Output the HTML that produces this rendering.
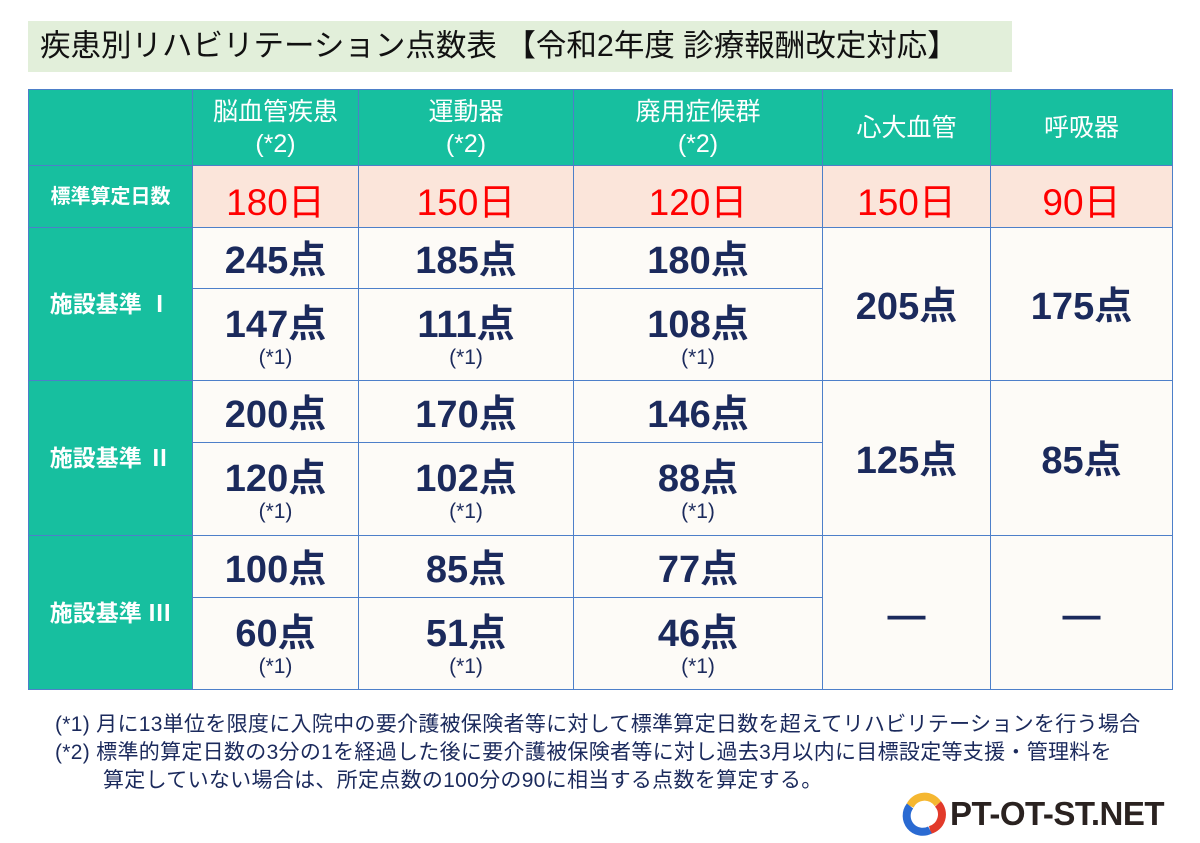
<!DOCTYPE html>
<html><head><meta charset="utf-8"><style>
*{margin:0;padding:0;box-sizing:border-box}
body{width:1200px;height:843px;background:#fff;position:relative;overflow:hidden;font-family:"Liberation Sans","Noto Sans CJK JP",sans-serif}
.t{position:absolute;left:28px;top:21px;width:984px;height:51px;background:#e2efda;font-size:30.5px;line-height:51px;padding-left:12px;color:#111;white-space:nowrap}
.c{position:absolute;border:1.5px solid #4d7fc9;display:flex;flex-direction:column;align-items:center;justify-content:center;text-align:center;color:#1b2a5c}
.h{background:#17bf9f;color:#fff;font-size:25px;line-height:32px}
.p{background:#fbe5da;color:#f00;font-size:37px;padding-top:4px}
.b{background:#fdfbf7}
.n{font-size:38px;font-weight:bold;line-height:42px}
.s{font-size:21px;line-height:24px}
.f{position:absolute;font-size:21px;color:#1b2a5c;white-space:nowrap;letter-spacing:0.3px}
</style></head><body>
<div class="t">疾患別リハビリテーション点数表 【令和2年度 診療報酬改定対応】</div>

<div class="c h" style="left:28px;top:89px;width:165px;height:77px"></div>
<div class="c h" style="left:192px;top:89px;width:167px;height:77px">脳血管疾患<br>(*2)</div>
<div class="c h" style="left:358px;top:89px;width:216px;height:77px">運動器<br>(*2)</div>
<div class="c h" style="left:573px;top:89px;width:250px;height:77px">廃用症候群<br>(*2)</div>
<div class="c h" style="left:822px;top:89px;width:169px;height:77px">心大血管</div>
<div class="c h" style="left:990px;top:89px;width:183px;height:77px">呼吸器</div>

<div class="c h" style="left:28px;top:165px;width:165px;height:63px;font-size:20px;font-weight:bold">標準算定日数</div>
<div class="c p" style="left:192px;top:165px;width:167px;height:63px">180日</div>
<div class="c p" style="left:358px;top:165px;width:216px;height:63px">150日</div>
<div class="c p" style="left:573px;top:165px;width:250px;height:63px">120日</div>
<div class="c p" style="left:822px;top:165px;width:169px;height:63px">150日</div>
<div class="c p" style="left:990px;top:165px;width:183px;height:63px">90日</div>

<!-- I -->
<div class="c h" style="left:28px;top:227px;width:165px;height:154px;font-size:23px;font-weight:bold">施設基準 Ⅰ</div>
<div class="c b n" style="left:192px;top:227px;width:167px;height:62px;padding-top:6px">245点</div>
<div class="c b n" style="left:358px;top:227px;width:216px;height:62px;padding-top:6px">185点</div>
<div class="c b n" style="left:573px;top:227px;width:250px;height:62px;padding-top:6px">180点</div>
<div class="c b" style="left:192px;top:288px;width:167px;height:93px;padding-top:4px"><span class="n">147点</span><span class="s">(*1)</span></div>
<div class="c b" style="left:358px;top:288px;width:216px;height:93px;padding-top:4px"><span class="n">111点</span><span class="s">(*1)</span></div>
<div class="c b" style="left:573px;top:288px;width:250px;height:93px;padding-top:4px"><span class="n">108点</span><span class="s">(*1)</span></div>
<div class="c b n" style="left:822px;top:227px;width:169px;height:154px;padding-top:6px">205点</div>
<div class="c b n" style="left:990px;top:227px;width:183px;height:154px;padding-top:6px">175点</div>

<!-- II -->
<div class="c h" style="left:28px;top:380px;width:165px;height:156px;font-size:23px;font-weight:bold">施設基準 Ⅱ</div>
<div class="c b n" style="left:192px;top:380px;width:167px;height:63px;padding-top:6px">200点</div>
<div class="c b n" style="left:358px;top:380px;width:216px;height:63px;padding-top:6px">170点</div>
<div class="c b n" style="left:573px;top:380px;width:250px;height:63px;padding-top:6px">146点</div>
<div class="c b" style="left:192px;top:442px;width:167px;height:94px;padding-top:4px"><span class="n">120点</span><span class="s">(*1)</span></div>
<div class="c b" style="left:358px;top:442px;width:216px;height:94px;padding-top:4px"><span class="n">102点</span><span class="s">(*1)</span></div>
<div class="c b" style="left:573px;top:442px;width:250px;height:94px;padding-top:4px"><span class="n">88点</span><span class="s">(*1)</span></div>
<div class="c b n" style="left:822px;top:380px;width:169px;height:156px;padding-top:6px">125点</div>
<div class="c b n" style="left:990px;top:380px;width:183px;height:156px;padding-top:6px">85点</div>

<!-- III -->
<div class="c h" style="left:28px;top:535px;width:165px;height:155px;font-size:23px;font-weight:bold">施設基準 Ⅲ</div>
<div class="c b n" style="left:192px;top:535px;width:167px;height:63px;padding-top:6px">100点</div>
<div class="c b n" style="left:358px;top:535px;width:216px;height:63px;padding-top:6px">85点</div>
<div class="c b n" style="left:573px;top:535px;width:250px;height:63px;padding-top:6px">77点</div>
<div class="c b" style="left:192px;top:597px;width:167px;height:93px;padding-top:4px"><span class="n">60点</span><span class="s">(*1)</span></div>
<div class="c b" style="left:358px;top:597px;width:216px;height:93px;padding-top:4px"><span class="n">51点</span><span class="s">(*1)</span></div>
<div class="c b" style="left:573px;top:597px;width:250px;height:93px;padding-top:4px"><span class="n">46点</span><span class="s">(*1)</span></div>
<div class="c b n" style="left:822px;top:535px;width:169px;height:155px;padding-top:6px">—</div>
<div class="c b n" style="left:990px;top:535px;width:183px;height:155px;padding-top:6px">—</div>

<div class="f" style="left:55px;top:708px">(*1) 月に13単位を限度に入院中の要介護被保険者等に対して標準算定日数を超えてリハビリテーションを行う場合</div>
<div class="f" style="left:55px;top:736px">(*2) 標準的算定日数の3分の1を経過した後に要介護被保険者等に対し過去3月以内に目標設定等支援・管理料を</div>
<div class="f" style="left:103px;top:764px">算定していない場合は、所定点数の100分の90に相当する点数を算定する。</div>

<svg style="position:absolute;left:900px;top:792px" width="46" height="46" viewBox="0 0 46 46">
<path d="M10 14 A16 16 0 0 1 38 12" stroke="#f5b731" stroke-width="8" fill="none"/>
<path d="M38 12 A16 16 0 0 1 30 38" stroke="#e23a2a" stroke-width="8" fill="none"/>
<path d="M30 38 A16 16 0 0 1 10 14" stroke="#2a6ad2" stroke-width="8" fill="none"/>
</svg>
<div style="position:absolute;left:950px;top:795px;font-size:33px;font-weight:bold;color:#2a2220;letter-spacing:-0.5px">PT-OT-ST.NET</div>
</body></html>
